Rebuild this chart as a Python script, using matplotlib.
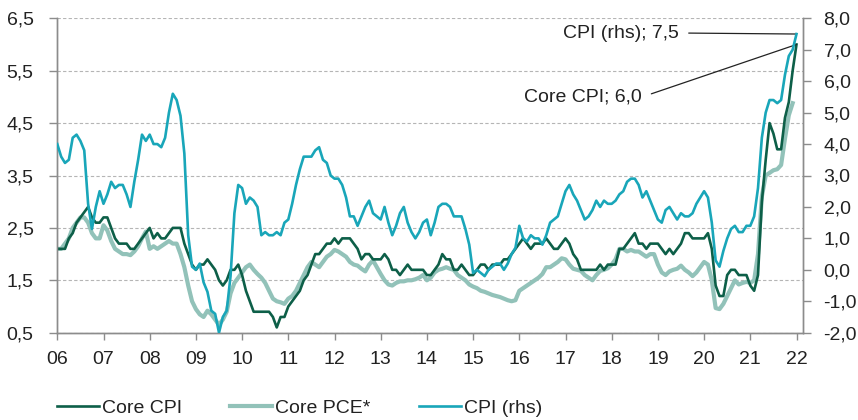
import matplotlib
matplotlib.use("Agg")
import matplotlib.pyplot as plt
from matplotlib import font_manager
from matplotlib.ticker import FuncFormatter, FixedLocator
from matplotlib.lines import Line2D
import numpy as np

# ---------------- data (monthly, Jan 2006 onward) ----------------
cpi = [
    4.0, 3.6, 3.4, 3.5, 4.2, 4.3, 4.1, 3.8, 2.1, 1.3, 2.0, 2.5,   # 2006
    2.1, 2.4, 2.8, 2.6, 2.7, 2.7, 2.4, 2.0, 2.8, 3.5, 4.3, 4.1,   # 2007
    4.3, 4.0, 4.0, 3.9, 4.2, 5.0, 5.6, 5.4, 4.9, 3.7, 1.1, 0.1,   # 2008
    0.0, 0.2, -0.4, -0.7, -1.3, -1.4, -2.0, -1.5, -1.3, -0.2, 1.8, 2.7,  # 2009
    2.6, 2.1, 2.3, 2.2, 2.0, 1.1, 1.2, 1.1, 1.1, 1.2, 1.1, 1.5,   # 2010
    1.6, 2.1, 2.7, 3.2, 3.6, 3.6, 3.6, 3.8, 3.9, 3.5, 3.4, 3.0,   # 2011
    2.9, 2.9, 2.7, 2.3, 1.7, 1.7, 1.4, 1.7, 2.0, 2.2, 1.8, 1.7,   # 2012
    1.6, 2.0, 1.5, 1.1, 1.4, 1.8, 2.0, 1.5, 1.2, 1.0, 1.2, 1.5,   # 2013
    1.6, 1.1, 1.5, 2.0, 2.1, 2.1, 2.0, 1.7, 1.7, 1.7, 1.3, 0.8,   # 2014
    -0.1, 0.0, -0.1, -0.2, 0.0, 0.1, 0.2, 0.2, 0.0, 0.2, 0.5, 0.7,  # 2015
    1.4, 1.0, 0.9, 1.1, 1.0, 1.0, 0.8, 1.1, 1.5, 1.6, 1.7, 2.1,   # 2016
    2.5, 2.7, 2.4, 2.2, 1.9, 1.6, 1.7, 1.9, 2.2, 2.0, 2.2, 2.1,   # 2017
    2.1, 2.2, 2.4, 2.5, 2.8, 2.9, 2.9, 2.7, 2.3, 2.5, 2.2, 1.9,   # 2018
    1.6, 1.5, 1.9, 2.0, 1.8, 1.6, 1.8, 1.7, 1.7, 1.8, 2.1, 2.3,   # 2019
    2.5, 2.3, 1.5, 0.3, 0.1, 0.6, 1.0, 1.3, 1.4, 1.2, 1.2, 1.4,   # 2020
    1.4, 1.7, 2.6, 4.2, 5.0, 5.4, 5.4, 5.3, 5.4, 6.2, 6.8, 7.0,   # 2021
    7.5,                                                          # 2022
]

core_cpi = [
    2.1, 2.1, 2.1, 2.3, 2.4, 2.6, 2.7, 2.8, 2.9, 2.7, 2.6, 2.6,   # 2006
    2.7, 2.7, 2.5, 2.3, 2.2, 2.2, 2.2, 2.1, 2.1, 2.2, 2.3, 2.4,   # 2007
    2.5, 2.3, 2.4, 2.3, 2.3, 2.4, 2.5, 2.5, 2.5, 2.2, 2.0, 1.8,   # 2008
    1.7, 1.8, 1.8, 1.9, 1.8, 1.7, 1.5, 1.4, 1.5, 1.7, 1.7, 1.8,   # 2009
    1.6, 1.3, 1.1, 0.9, 0.9, 0.9, 0.9, 0.9, 0.8, 0.6, 0.8, 0.8,   # 2010
    1.0, 1.1, 1.2, 1.3, 1.5, 1.6, 1.8, 2.0, 2.0, 2.1, 2.2, 2.2,   # 2011
    2.3, 2.2, 2.3, 2.3, 2.3, 2.2, 2.1, 1.9, 2.0, 2.0, 1.9, 1.9,   # 2012
    1.9, 2.0, 1.9, 1.7, 1.7, 1.6, 1.7, 1.8, 1.7, 1.7, 1.7, 1.7,   # 2013
    1.6, 1.6, 1.7, 1.8, 2.0, 1.9, 1.9, 1.7, 1.7, 1.8, 1.7, 1.6,   # 2014
    1.6, 1.7, 1.8, 1.8, 1.7, 1.8, 1.8, 1.8, 1.9, 1.9, 2.0, 2.1,   # 2015
    2.2, 2.3, 2.2, 2.1, 2.2, 2.2, 2.2, 2.3, 2.2, 2.1, 2.1, 2.2,   # 2016
    2.3, 2.2, 2.0, 1.9, 1.7, 1.7, 1.7, 1.7, 1.7, 1.8, 1.7, 1.8,   # 2017
    1.8, 1.8, 2.1, 2.1, 2.2, 2.3, 2.4, 2.2, 2.2, 2.1, 2.2, 2.2,   # 2018
    2.2, 2.1, 2.0, 2.1, 2.0, 2.1, 2.2, 2.4, 2.4, 2.3, 2.3, 2.3,   # 2019
    2.3, 2.4, 2.1, 1.4, 1.2, 1.2, 1.6, 1.7, 1.7, 1.6, 1.6, 1.6,   # 2020
    1.4, 1.3, 1.6, 3.0, 3.8, 4.5, 4.3, 4.0, 4.0, 4.6, 4.9, 5.5,   # 2021
    6.0,                                                          # 2022
]

core_pce = [
    2.1, 2.1, 2.2, 2.3, 2.5, 2.6, 2.7, 2.7, 2.6, 2.4, 2.3, 2.3,   # 2006
    2.55, 2.45, 2.25, 2.1, 2.05, 2.0, 2.0, 1.98, 2.05, 2.15, 2.3, 2.43,  # 2007
    2.1, 2.15, 2.1, 2.15, 2.2, 2.25, 2.2, 2.2, 2.0, 1.75, 1.4, 1.1,     # 2008
    0.95, 0.85, 0.8, 0.92, 0.85, 0.75, 0.65, 0.75, 0.9, 1.25, 1.45, 1.55,  # 2009
    1.65, 1.75, 1.8, 1.7, 1.62, 1.55, 1.45, 1.3, 1.15, 1.1, 1.08, 1.05,   # 2010
    1.15, 1.2, 1.3, 1.45, 1.6, 1.75, 1.85, 1.8, 1.75, 1.85, 1.95, 2.0,    # 2011
    2.08, 2.05, 2.0, 1.95, 1.85, 1.8, 1.78, 1.72, 1.67, 1.8, 1.88, 1.75,  # 2012
    1.62, 1.5, 1.42, 1.4, 1.45, 1.48, 1.48, 1.5, 1.5, 1.52, 1.55, 1.6,    # 2013
    1.5, 1.55, 1.65, 1.7, 1.72, 1.75, 1.72, 1.7, 1.6, 1.55, 1.5, 1.42,   # 2014
    1.38, 1.35, 1.3, 1.28, 1.25, 1.22, 1.2, 1.18, 1.15, 1.12, 1.1, 1.12, # 2015
    1.3, 1.35, 1.4, 1.45, 1.5, 1.55, 1.62, 1.75, 1.75, 1.8, 1.85, 1.92,  # 2016
    1.9, 1.8, 1.72, 1.7, 1.68, 1.6, 1.55, 1.5, 1.6, 1.68, 1.7, 1.73,     # 2017
    1.8, 1.9, 2.1, 2.1, 2.05, 2.08, 2.05, 2.05, 2.0, 1.95, 2.0, 2.0,     # 2018
    1.8, 1.65, 1.6, 1.67, 1.7, 1.72, 1.78, 1.7, 1.65, 1.58, 1.65, 1.75, # 2019
    1.85, 1.8, 1.5, 0.97, 0.95, 1.05, 1.2, 1.35, 1.5, 1.42, 1.45, 1.47, # 2020
    1.45, 1.5, 2.0, 3.1, 3.5, 3.55, 3.6, 3.62, 3.7, 4.2, 4.65, 4.88,    # 2021
]

year_labels = ["06", "07", "08", "09", "10", "11", "12", "13", "14",
               "15", "16", "17", "18", "19", "20", "21", "22"]
left_ticks = [0.5, 1.5, 2.5, 3.5, 4.5, 5.5, 6.5]
right_ticks = [-2.0, -1.0, 0.0, 1.0, 2.0, 3.0, 4.0, 5.0, 6.0, 7.0, 8.0]
series_names = ["Core CPI", "Core PCE*", "CPI (rhs)"]
ann_cpi = "CPI (rhs); 7,5"
ann_core = "Core CPI; 6,0"

# ---------------- style ----------------
names = {f.name for f in font_manager.fontManager.ttflist}
if "Liberation Sans Narrow" in names:
    FAM = ["Liberation Sans Narrow", "DejaVu Sans"]
    FS = 15.5
else:
    FAM = ["Liberation Sans", "DejaVu Sans"]
    FS = 14
plt.rcParams["font.family"] = FAM

C_CORE = "#0d5f48"
C_PCE = "#92c2b9"
C_CPI = "#19a6b9"
SPINE = "#8c8c8c"
TXT = "#222222"

W, H = 858, 420
fig = plt.figure(figsize=(W / 100, H / 100), dpi=100)
L, R, T, B = 57.3, 802.7, 18.3, 332.7
ax = fig.add_axes([L / W, 1 - B / H, (R - L) / W, (B - T) / H])
ax2 = ax.twinx()

x_cpi = np.arange(len(cpi))
x_core = np.arange(len(core_cpi))
x_pce = np.arange(len(core_pce))

ax.plot(x_pce, core_pce, color=C_PCE, lw=3.0, solid_joinstyle="round", zorder=2)
ax.plot(x_core, core_cpi, color=C_CORE, lw=1.9, zorder=3)
ax2.plot(x_cpi, cpi, color=C_CPI, lw=1.9, zorder=4)
ax2.set_zorder(ax.get_zorder() + 1)
ax2.patch.set_visible(False)

ax.set_xlim(0, (R - L) / (46.2 / 12))
ax.set_ylim(0.5, 6.5)
ax2.set_ylim(-2.0, 8.0)

ax.xaxis.set_major_locator(FixedLocator([12 * i for i in range(len(year_labels))]))
ax.set_xticklabels(year_labels)
ax.yaxis.set_major_locator(FixedLocator(left_ticks))
ax2.yaxis.set_major_locator(FixedLocator(right_ticks))
fmt = FuncFormatter(lambda v, p: f"{v:.1f}".replace(".", ","))
ax.yaxis.set_major_formatter(fmt)
ax2.yaxis.set_major_formatter(fmt)

ax.grid(axis="y", color="#b5b5b5", linestyle=(0, (3, 2)), lw=0.8)
ax.set_axisbelow(True)

for a in (ax, ax2):
    a.spines["top"].set_visible(False)
    for s in ("left", "right", "bottom"):
        a.spines[s].set_color(SPINE)
        a.spines[s].set_linewidth(1.0)
ax.tick_params(axis="x", direction="out", length=5, width=1, color=SPINE,
               labelsize=FS, labelcolor=TXT, pad=8)
ax.tick_params(axis="y", direction="out", length=6, width=1, color=SPINE,
               labelsize=FS, labelcolor=TXT, pad=11)
ax2.tick_params(axis="y", direction="out", length=6, width=1, color=SPINE,
                labelsize=FS, labelcolor=TXT, pad=9)

# annotations (text positions in figure pixels, origin bottom-left)
end_cpi = len(cpi) - 1
end_core = len(core_cpi) - 1
ax2.annotate(ann_cpi, xy=(end_cpi, cpi[-1]), xycoords="data",
             xytext=(679, H - 33), textcoords="figure pixels",
             fontsize=FS, color=TXT, ha="right", va="center",
             arrowprops=dict(arrowstyle="-", color="#222222", lw=0.9,
                             shrinkA=5, shrinkB=0, relpos=(1.0, 0.5)),
             annotation_clip=False)
ax2.annotate(ann_core, xy=(end_core, (core_cpi[-1] - 0.5) * 10 / 6 - 2.0),
             xycoords="data",
             xytext=(642, H - 97), textcoords="figure pixels",
             fontsize=FS, color=TXT, ha="right", va="center",
             arrowprops=dict(arrowstyle="-", color="#222222", lw=0.9,
                             shrinkA=5, shrinkB=0, relpos=(1.0, 0.5)),
             annotation_clip=False)

# legend
handles = [Line2D([], [], color=C_CORE, lw=1.9),
           Line2D([], [], color=C_PCE, lw=3.0),
           Line2D([], [], color=C_CPI, lw=1.9)]
fig.legend(handles, series_names, loc="center left",
           bbox_to_anchor=(57 / W, 1 - 408 / H), ncol=3, frameon=False,
           fontsize=FS, handlelength=2.15, handletextpad=0.15,
           columnspacing=2.5, labelcolor=TXT, borderaxespad=0, borderpad=0)

fig.savefig("out.png", dpi=100)
